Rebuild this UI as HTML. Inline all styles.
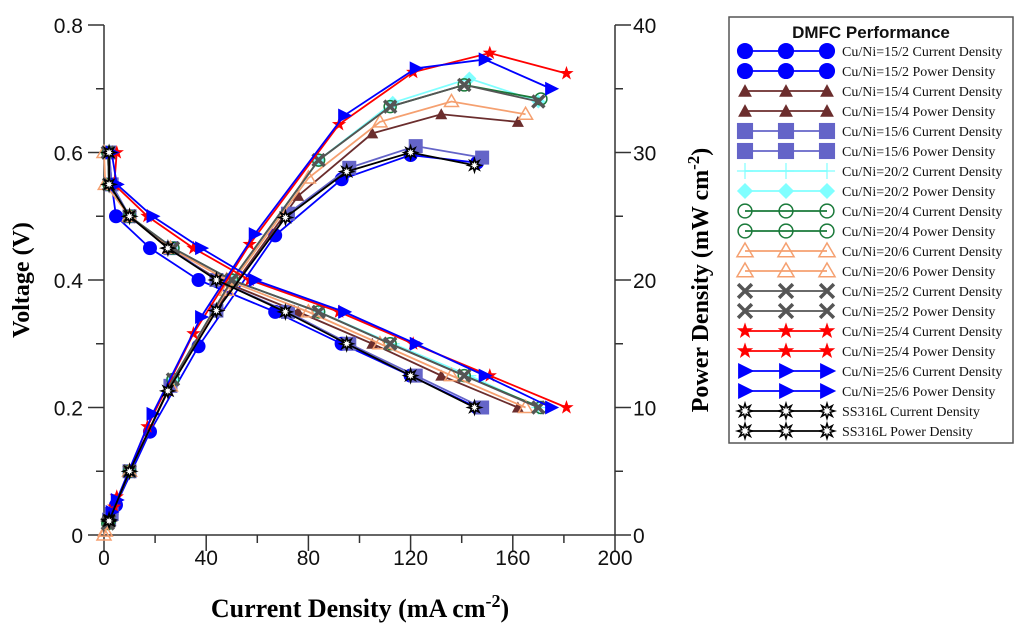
<!DOCTYPE html>
<html><head><meta charset="utf-8"><style>
html,body{margin:0;padding:0;background:#fff;}
svg{display:block;}
</style></head><body>
<svg id="chart" width="1024" height="636" xmlns="http://www.w3.org/2000/svg">
<g id="axes"></g>
<g id="series"></g>
<g id="legend"></g>
<text x="0" y="0" transform="translate(29,280) rotate(-90)" text-anchor="middle" font-family="Liberation Serif, serif" font-weight="bold" font-size="24">Voltage (V)</text>
<text x="0" y="0" transform="translate(708,280) rotate(-90)" text-anchor="middle" font-family="Liberation Serif, serif" font-weight="bold" font-size="24">Power Density (mW cm<tspan baseline-shift="super" font-size="17">-2</tspan>)</text>
<text x="360" y="617" text-anchor="middle" font-family="Liberation Serif, serif" font-weight="bold" font-size="26">Current Density (mA cm<tspan baseline-shift="super" font-size="18">-2</tspan>)</text>
</svg>
<script>
const xTicks = [0,40,80,120,160,200];
const yTicks = [0,0.2,0.4,0.6,0.8];
const y2Ticks = [0,10,20,30,40];
const seriesNames = ["Cu/Ni=15/2","Cu/Ni=15/4","Cu/Ni=15/6","Cu/Ni=20/2","Cu/Ni=20/4","Cu/Ni=20/6","Cu/Ni=25/2","Cu/Ni=25/4","Cu/Ni=25/6","SS316L"];
const voltages = [0.6,0.55,0.5,0.45,0.4,0.35,0.3,0.25,0.2];
const cur152 = [2,3,4.7,18,37,67,93,120,146];
const cur154 = [1.5,2,10,25,45,76,105,132,162];
const cur156 = [2,3,10,26,44,72,96,122,148];
const cur202 = [1.5,2,10,27,50,84,113,143,170];
const cur204 = [1.5,2,10,27,50,84,112,141,171];
const cur206 = [0,0.5,10,26,48,80,108,136,165];
const cur252 = [1.5,2,10,27,50,84,112,141,170];
const cur254 = [5,4,17,35,57,92,121,151,181];
const cur256 = [3,5,19,38,59,94,122,149,175];
const curSS = [2,2,10,25,44,71,95,120,145];
const pow152 = [1.2,1.65,2.35,8.1,14.8,23.5,27.9,29.8,29.2];
const pow154 = [0.9,1.1,5,11.3,18,26.6,31.5,33,32.4];
const pow156 = [1.2,1.65,5,11.7,17.6,25.2,28.8,30.5,29.6];
const pow202 = [0.9,1.1,5,12.2,20,29.4,33.9,35.8,34];
const pow204 = [0.9,1.1,5,12.2,20,29.4,33.6,35.3,34.2];
const pow206 = [0,0.3,5,11.7,19.2,28,32.4,34,33];
const pow252 = [0.9,1.1,5,12.2,20,29.4,33.6,35.3,34];
const pow254 = [3,2.2,8.5,15.8,22.8,32.2,36.3,37.8,36.2];
const pow256 = [1.8,2.75,9.5,17.1,23.6,32.9,36.6,37.3,35];
const powSS = [1.2,1.1,5,11.3,17.6,24.9,28.5,30,29];

const curs=[cur152,cur154,cur156,cur202,cur204,cur206,cur252,cur254,cur256,curSS];
const pows=[pow152,pow154,pow156,pow202,pow204,pow206,pow252,pow254,pow256,powSS];
const colors=["#0000ff","#6b2d2d","#6464c8","#80ffff","#1a7a3a","#f5a070","#555555","#ff0000","#0000ff","#000000"];
const mkC=["circle","tri","square","plus","ocircle","otri","x","star","rtri","ss"];
const mkP=["circle","tri","square","diamond","ocircle","otri","x","star","rtri","ss"];

const NS="http://www.w3.org/2000/svg";
const X0=104,X1=615,Y0=535,Y1=25;
const sx=v=>X0+(v-0)/(200-0)*(X1-X0);
const sy=v=>Y0-(v/0.8)*(Y0-Y1);
const sy2=v=>Y0-(v/40)*(Y0-Y1);
function el(t,a,p){const e=document.createElementNS(NS,t);for(const k in a)e.setAttribute(k,a[k]);p.appendChild(e);return e;}

const ax=document.getElementById('axes');
let e;
e=el('path',{d:`M${X0},${Y1}V${Y0}H${X1}V${Y1}`,fill:'none',stroke:'#333','stroke-width':1.5},ax);


for(let v=0;v<=200;v+=20){const maj=v%40===0;
 el('line',{x1:sx(v),x2:sx(v),y1:Y0,y2:Y0+(maj?16:8),stroke:'#333','stroke-width':1.5},ax);}
xTicks.forEach(v=>{e=el('text',{x:sx(v),y:Y0+30,'text-anchor':'middle','font-family':'Liberation Sans, sans-serif','font-size':21,fill:'#111'},ax);e.textContent=v;

});
for(let i=0;i<=8;i++){const v=i*0.1,maj=i%2===0;
 el('line',{x1:X0,x2:X0-(maj?16:8),y1:sy(v),y2:sy(v),stroke:'#333','stroke-width':1.5},ax);
 el('line',{x1:X1,x2:X1+(maj?16:8),y1:sy(v),y2:sy(v),stroke:'#333','stroke-width':1.5},ax);}
yTicks.forEach(v=>{e=el('text',{x:83,y:sy(v)+8,'text-anchor':'end','font-family':'Liberation Sans, sans-serif','font-size':21,fill:'#111'},ax);e.textContent=v===0?'0':v.toFixed(1);

});
y2Ticks.forEach(v=>{e=el('text',{x:633,y:sy2(v)+8,'text-anchor':'start','font-family':'Liberation Sans, sans-serif','font-size':21,fill:'#111'},ax);e.textContent=v;

});

function marker(type,x,y,c,p,sc){
 sc=sc||1;let m;
 switch(type){
 case'circle':m=el('circle',{cx:x,cy:y,r:7*sc,fill:c},p);break;
 case'ocircle':m=el('circle',{cx:x,cy:y,r:6*sc,fill:'none',stroke:c,'stroke-width':1.5},p);break;
 case'tri':m=el('polygon',{points:`${x},${y-6*sc} ${x+6*sc},${y+5*sc} ${x-6*sc},${y+5*sc}`,fill:c},p);break;
 case'otri':m=el('polygon',{points:`${x},${y-7*sc} ${x+7*sc},${y+5*sc} ${x-7*sc},${y+5*sc}`,fill:'none',stroke:c,'stroke-width':1.5},p);break;
 case'square':m=el('rect',{x:x-7*sc,y:y-7*sc,width:14*sc,height:14*sc,fill:c},p);break;
 case'plus':m=el('path',{d:`M${x-7*sc},${y}H${x+7*sc}M${x},${y-7*sc}V${y+7*sc}`,stroke:c,'stroke-width':1.2},p);break;
 case'diamond':m=el('polygon',{points:`${x},${y-7*sc} ${x+7*sc},${y} ${x},${y+7*sc} ${x-7*sc},${y}`,fill:c},p);break;
 case'x':m=el('path',{d:`M${x-6*sc},${y-6*sc}L${x+6*sc},${y+6*sc}M${x+6*sc},${y-6*sc}L${x-6*sc},${y+6*sc}`,stroke:c,'stroke-width':3.5},p);break;
 case'star':{let pts=[];for(let i=0;i<10;i++){const a=-Math.PI/2+i*Math.PI/5,rr=(i%2?3:7.5)*sc;pts.push((x+rr*Math.cos(a)).toFixed(1)+','+(y+rr*Math.sin(a)).toFixed(1));}
  m=el('polygon',{points:pts.join(' '),fill:c},p);break;}
 case'rtri':m=el('polygon',{points:`${x-6*sc},${y-7*sc} ${x+8*sc},${y} ${x-6*sc},${y+7*sc}`,fill:c},p);break;
 case'ss':{let pts=[];for(let i=0;i<16;i++){const a=i*Math.PI/8,rr=(i%2?3:6.5)*sc;pts.push((x+rr*Math.cos(a)).toFixed(1)+','+(y+rr*Math.sin(a)).toFixed(1));}
  m=el('polygon',{points:pts.join(' '),fill:'#fff',stroke:c,'stroke-width':1.5},p);break;}
 }
 return m;
}

const sg=document.getElementById('series');
for(let s=0;s<seriesNames.length;s++){
 const gC=el('g',{},sg);
 
 
 el('polyline',{points:curs[s].map((v,i)=>sx(v)+','+sy(voltages[i])).join(' '),fill:'none',stroke:colors[s],'stroke-width':1.8},gC);
 curs[s].forEach((v,i)=>marker(mkC[s],sx(v),sy(voltages[i]),colors[s],gC));
 const gP=el('g',{},sg);
 
 
 el('polyline',{points:curs[s].map((v,i)=>sx(v)+','+sy2(pows[s][i])).join(' '),fill:'none',stroke:colors[s],'stroke-width':1.8},gP);
 curs[s].forEach((v,i)=>marker(mkP[s],sx(v),sy2(pows[s][i]),colors[s],gP));
}

const lg=document.getElementById('legend');
e=el('rect',{x:729,y:17,width:284,height:426,fill:'#fff',stroke:'#555','stroke-width':1.5},lg);


e=el('text',{x:871,y:38,'text-anchor':'middle','font-family':'Liberation Sans, sans-serif','font-weight':'bold','font-size':17,fill:'#111'},lg);
e.textContent='DMFC Performance';


for(let s=0;s<seriesNames.length;s++){
 for(let k=0;k<2;k++){
  const y=51+(s*2+k)*20;
  const g=el('g',{},lg);
  
  
  el('line',{x1:745,x2:827,y1:y,y2:y,stroke:colors[s],'stroke-width':1.8},g);
  [745,786,827].forEach(x=>marker(k?mkP[s]:mkC[s],x,y,colors[s],g,1.15));
  const t=el('text',{x:842,y:y+5,'font-family':'Liberation Serif, serif','font-size':14,fill:'#111'},g);
  t.textContent=seriesNames[s]+(k?' Power Density':' Current Density');
 }
}
</script>
</body></html>
